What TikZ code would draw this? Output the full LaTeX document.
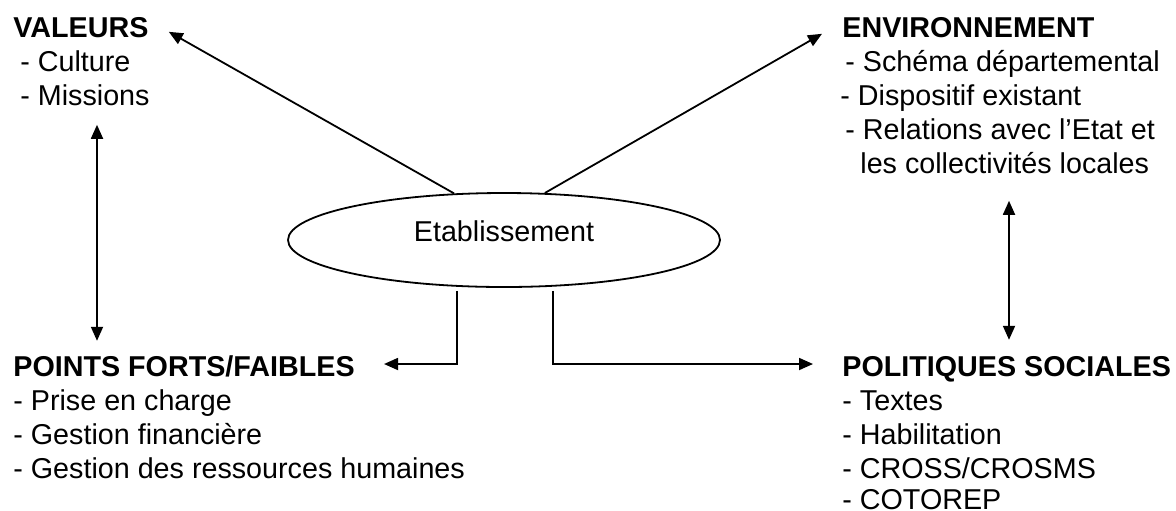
\documentclass[tikz,border=0pt]{standalone}
\usepackage{fontspec}
\setmainfont{Liberation Sans}
\usetikzlibrary{positioning,arrows.meta,shapes.geometric}

\begin{document}
\begin{tikzpicture}[x=0.5pt,y=-0.5pt]
	\tikzstyle{head} = [inner sep=0pt, text height=11.9pt, text depth=4.7pt, font=\fontsize{14.35pt}{16.6pt}\selectfont\bfseries, anchor=base west]
	\tikzstyle{item} = [inner sep=0pt, text height=11.9pt, text depth=4.7pt, font=\fontsize{14.35pt}{16.6pt}\selectfont]
	\tikzstyle{arr} = [line width=0.9pt, -{Triangle[length=7pt,width=6pt]}]
	\tikzstyle{dbl} = [line width=0.9pt, {Triangle[length=7pt,width=6pt]}-{Triangle[length=7pt,width=6pt]}]
	\useasboundingbox (0,0) rectangle (1176,510);

	% centre
	\node[draw, ellipse, line width=0.9pt, minimum width=216pt, minimum height=47pt, text depth=9pt, font=\fontsize{14.35pt}{16.6pt}\selectfont](etab) at (504,240){Etablissement};

	% top left
	\node[head](val) at (13,37){VALEURS};
	\node[item, below=0pt of val.south west, anchor=north west, xshift=3.5pt](val1){- Culture};
	\node[item, below=0pt of val1.south west, anchor=north west](val2){- Missions};

	% top right
	\node[head](env) at (842,37){ENVIRONNEMENT};
	\node[item, below=0pt of env.south west, anchor=north west, xshift=1.5pt](env1){- Schéma départemental};
	\node[item, below=0pt of env1.south west, anchor=north west, xshift=-2.5pt](env2){- Dispositif existant};
	\node[item, below=0pt of env2.south west, anchor=north west, xshift=2.5pt](env3){- Relations avec l’Etat et};
	\node[item, below=0pt of env3.south west, anchor=north west, xshift=7.5pt](env4){les collectivités locales};

	% bottom left
	\node[head](pts) at (13,376){POINTS FORTS/FAIBLES};
	\node[item, below=0pt of pts.south west, anchor=north west](pts1){- Prise en charge};
	\node[item, below=0pt of pts1.south west, anchor=north west](pts2){- Gestion financière};
	\node[item, below=0pt of pts2.south west, anchor=north west](pts3){- Gestion des ressources humaines};

	% bottom right
	\node[head](pol) at (842,376){POLITIQUES SOCIALES};
	\node[item, below=0pt of pol.south west, anchor=north west](pol1){- Textes};
	\node[item, below=0pt of pol1.south west, anchor=north west](pol2){- Habilitation};
	\node[item, below=0pt of pol2.south west, anchor=north west](pol3){- CROSS/CROSMS};
	\node[item, text depth=0pt, below=0pt of pol3.south west, anchor=north west, yshift=1.2pt](pol4){- COTOREP};

	\coordinate (lv) at (97,0);
	\coordinate (rv) at (1009,0);

	\draw[arr](etab.137) -- ([xshift=10pt,yshift=-1pt]val.east);
	\draw[arr](etab.49) -- ([xshift=-10pt,yshift=-2pt]env.west);
	\draw[dbl]([yshift=-5pt]val2.south -| lv) -- ([yshift=5.5pt]pts.north -| lv);
	\draw[dbl]([yshift=-9pt]env4.south -| rv) -- ([yshift=6pt]pol.north -| rv);
	\draw[arr]([xshift=-23.5pt,yshift=-1.5pt]etab.south) |- ([xshift=14.5pt,yshift=2.4pt]pts.east);
	\draw[arr]([xshift=24.5pt,yshift=-1.5pt]etab.south) |- ([xshift=-14.5pt,yshift=2.4pt]pol.west);
\end{tikzpicture}
\end{document}
